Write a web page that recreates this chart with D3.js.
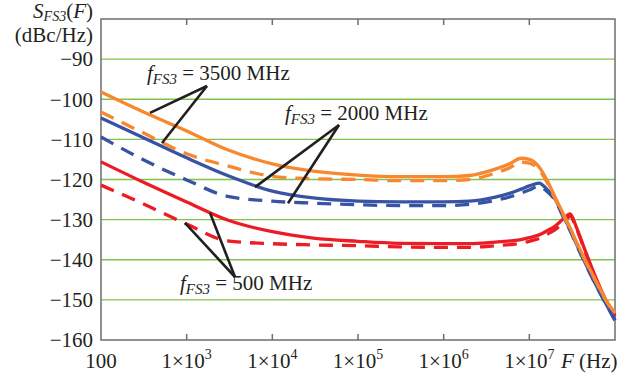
<!DOCTYPE html>
<html>
<head>
<meta charset="utf-8">
<script src="https://cdn.jsdelivr.net/npm/d3@7"></script>
<style>
  body { margin: 0; background: #fff; }
  text { font-family: "Liberation Serif", "DejaVu Serif", serif; fill: #231f20; }
</style>
</head>
<body>
<svg id="chart" width="638" height="381"></svg>
<script>
// offset frequencies (Hz)
const freqs = [100, 300, 1e3, 3e3, 1e4, 3e4, 1e5, 3e5, 1e6, 2e6, 4e6, 6e6, 8e6, 1e7,
  1.3e7, 1.6e7, 2e7, 2.5e7, 3e7, 3.5e7, 4.5e7, 6e7, 8e7, 1e8]

// phase noise, dBc/Hz  (solid / dashed)
const s3500 = [-98.2, -103.0, -107.9, -112.6, -116.1, -117.9, -118.9, -119.3, -119.3, -119.0,
  -117.4, -116.0, -114.7, -115.0, -116.9, -120.1, -124.4, -128.6, -132.1, -135.3, -140.1, -145.3, -150.3, -153.3]
const s3500dash = [-103.2, -108.2, -113.6, -116.6, -119.2, -119.8, -120.0, -120.3, -120.3, -120.0,
  -118.4, -117.0, -115.7, -115.9, -117.6, -120.6, -124.8, -128.9, -132.3, -135.5, -140.3, -145.5, -150.5, -153.5]
const s2000 = [-104.7, -109.4, -114.6, -119.0, -122.9, -124.6, -125.4, -125.6, -125.6, -125.4,
  -124.4, -123.4, -122.4, -121.6, -120.9, -122.4, -124.9, -129.1, -132.6, -135.8, -140.8, -146.3, -151.3, -155.0]
const s2000dash = [-109.4, -114.9, -120.1, -124.2, -125.4, -125.9, -126.3, -126.5, -126.5, -126.2,
  -125.2, -124.3, -123.4, -122.6, -121.7, -122.9, -125.2, -129.4, -132.8, -136.0, -141.0, -146.4, -151.4, -155.1]
const s500 = [-115.6, -120.5, -125.6, -130.1, -133.0, -134.6, -135.4, -135.9, -136.0, -136.0,
  -135.6, -135.3, -135.0, -134.5, -133.8, -132.8, -131.6, -129.8, -128.6, -131.6, -137.8, -144.6, -150.5, -154.0]
const s500dash = [-121.4, -125.9, -131.1, -135.3, -136.0, -136.3, -136.5, -136.8, -136.9, -136.9,
  -136.5, -136.2, -135.9, -135.4, -134.7, -133.7, -132.5, -130.7, -129.2, -131.9, -138.1, -144.8, -150.7, -154.2]

const yTicks = [-160, -150, -140, -130, -120, -110, -100, -90]
const gridTicks = [-150, -140, -130, -120, -110, -100, -90]
const xTicks = [100, 1e3, 1e4, 1e5, 1e6, 1e7]
const xTickExp = [null, 3, 4, 5, 6, 7]

// labels: [F, S] of text start, apex of pointers, pointer targets
const labelNames = ['3500', '2000', '500']
const labelPos = [[344, -95.2], [14060, -105.2], [836, -147.5]]
const labelApex = [[1726, -96.7], [60000, -106.4], [3665, -144.3]]
const labelTargets = [
  [[373, -103.4], [515, -110.9]],
  [[6280, -121.9], [15240, -125.9]],
  [[1871, -128.3], [955, -130.8]]
]

const svg = d3.select('#chart')
const plotL = 101, plotR = 615, plotT = 19, plotB = 340
const fs = 21

const x = d3.scaleLog().domain([100, 1e8]).range([plotL, plotR])
const y = d3.scaleLinear().domain([-160, -80]).range([plotB, plotT])

// green grid
svg.append('g').selectAll('line')
  .data(gridTicks)
  .join('line')
  .attr('x1', plotL).attr('x2', plotR)
  .attr('y1', d => y(d)).attr('y2', d => y(d))
  .attr('stroke', '#80c34c')
  .attr('stroke-width', 1.4)

// frame
svg.append('rect')
  .attr('x', plotL).attr('y', plotT)
  .attr('width', plotR - plotL).attr('height', plotB - plotT)
  .attr('fill', 'none')
  .attr('stroke', '#6d6e71')
  .attr('stroke-width', 1.5)

// decade ticks, bottom and top, inward
const tickG = svg.append('g')
xTicks.slice(1).forEach(function(t) {
  tickG.append('line')
    .attr('x1', x(t)).attr('x2', x(t))
    .attr('y1', plotB).attr('y2', plotB - 6)
    .attr('stroke', '#6d6e71').attr('stroke-width', 1.5)
  tickG.append('line')
    .attr('x1', x(t)).attr('x2', x(t))
    .attr('y1', plotT).attr('y2', plotT + 6)
    .attr('stroke', '#6d6e71').attr('stroke-width', 1.5)
})

// y tick labels
svg.append('g').selectAll('text')
  .data(yTicks)
  .join('text')
  .attr('x', plotL - 8)
  .attr('y', d => y(d))
  .attr('dy', '0.35em')
  .attr('text-anchor', 'end')
  .attr('font-size', fs)
  .text(d => '\u2212' + Math.abs(d))

// x tick labels
xTicks.forEach(function(t, i) {
  const txt = svg.append('text')
    .attr('x', x(t))
    .attr('y', 368)
    .attr('text-anchor', 'middle')
    .attr('font-size', fs)
  if (xTickExp[i] == null) {
    txt.text('100')
  } else {
    txt.append('tspan').text('1\u00d710')
    txt.append('tspan').attr('dy', -9).attr('font-size', 14).text(xTickExp[i])
  }
})

// axis titles
const xt = svg.append('text').attr('x', 561).attr('y', 368).attr('font-size', fs)
xt.append('tspan').attr('font-style', 'italic').text('F')
xt.append('tspan').text(' (Hz)')

const yt = svg.append('text').attr('x', 93).attr('y', 18).attr('text-anchor', 'end').attr('font-size', fs)
yt.append('tspan').attr('font-style', 'italic').text('S')
yt.append('tspan').attr('font-style', 'italic').attr('font-size', 14).attr('dy', 3).text('FS3')
yt.append('tspan').attr('dy', -3).text('(')
yt.append('tspan').attr('font-style', 'italic').text('F')
yt.append('tspan').text(')')
svg.append('text').attr('x', 93).attr('y', 42).attr('text-anchor', 'end').attr('font-size', fs).text('(dBc/Hz)')

// curves
const line = d3.line()
  .x(d => x(d[0]))
  .y(d => y(d[1]))
  .curve(d3.curveMonotoneX)

const series = [
  { vals: s500dash, color: '#ed1c24', dash: '14,9' },
  { vals: s500, color: '#ed1c24', dash: null },
  { vals: s2000dash, color: '#3953a4', dash: '14,9' },
  { vals: s2000, color: '#3953a4', dash: null },
  { vals: s3500dash, color: '#f7882f', dash: '14,9' },
  { vals: s3500, color: '#f7882f', dash: null }
]

series.forEach(function(s) {
  svg.append('path')
    .datum(freqs.map((f, i) => [f, s.vals[i]]))
    .attr('d', line)
    .attr('fill', 'none')
    .attr('stroke', s.color)
    .attr('stroke-width', 3.3)
    .attr('stroke-dasharray', s.dash)
})

// annotation pointers and labels
labelNames.forEach(function(name, i) {
  labelTargets[i].forEach(function(tg) {
    svg.append('line')
      .attr('x1', x(labelApex[i][0])).attr('y1', y(labelApex[i][1]))
      .attr('x2', x(tg[0])).attr('y2', y(tg[1]))
      .attr('stroke', '#231f20')
      .attr('stroke-width', 2.6)
  })
  const t = svg.append('text')
    .attr('x', x(labelPos[i][0]))
    .attr('y', y(labelPos[i][1]))
    .attr('font-size', fs)
  t.append('tspan').attr('font-style', 'italic').text('f')
  t.append('tspan').attr('font-style', 'italic').attr('font-size', 15).attr('dy', 4).text('FS3')
  t.append('tspan').attr('dy', -4).text(' = ' + name + ' MHz')
})
</script>
</body>
</html>
